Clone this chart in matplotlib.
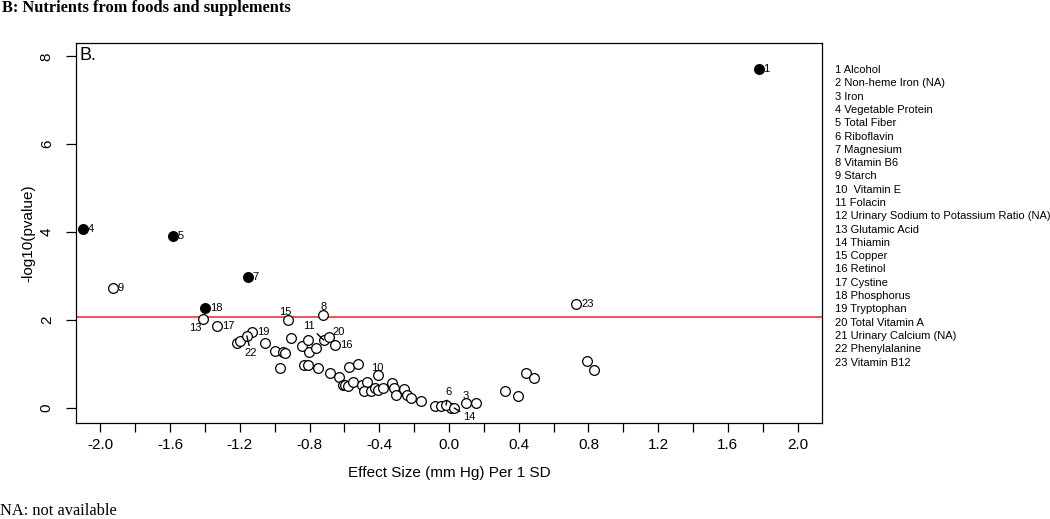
import numpy as np
import matplotlib
matplotlib.use('Agg')
import matplotlib.pyplot as plt

plt.rcParams['font.family'] = ['Liberation Sans', 'DejaVu Sans']

# significant nutrients (filled markers)
sig_id = ['1', '4', '5', '7', '18']
sig_x = [1.776, -2.10, -1.586, -1.155, -1.40]
sig_y = [7.70, 4.07, 3.91, 2.98, 2.27]

# labelled non-significant nutrients (open markers)
lab_id = ['9', '13', '17', '15', '8', '11', '20', '16', '19', '22', '10', '6', '3', '14', '23']
lab_x = [-1.93, -1.41, -1.33, -0.925, -0.724, -0.72, -0.69, -0.655, -1.13, -1.16, -0.41, -0.017, 0.098, 0.03, 0.73]
lab_y = [2.73, 2.02, 1.86, 2.00, 2.11, 1.55, 1.61, 1.43, 1.73, 1.64, 0.75, 0.07, 0.11, 0.00, 2.36]

# other nutrients (open markers, no label)
oth_x = [-1.218, -1.199, -1.054, -0.998, -0.95, -0.94, -0.97, -0.908, -0.845, -0.81,
         -0.806, -0.766, -0.83, -0.81, -0.749, -0.682, -0.63, -0.607, -0.598, -0.58,
         -0.576, -0.553, -0.523, -0.498, -0.47, -0.487, -0.45, -0.425, -0.406, -0.38,
         -0.33, -0.316, -0.305, -0.258, -0.243, -0.218, -0.159, -0.079, -0.046, 0.01,
         0.155, 0.32, 0.395, 0.443, 0.485, 0.793, 0.83]
oth_y = [1.49, 1.53, 1.49, 1.29, 1.27, 1.25, 0.92, 1.59, 1.41, 1.54,
         1.27, 1.37, 0.97, 0.98, 0.92, 0.80, 0.71, 0.52, 0.52, 0.50,
         0.94, 0.60, 1.01, 0.52, 0.60, 0.39, 0.38, 0.45, 0.41, 0.45,
         0.58, 0.45, 0.30, 0.43, 0.30, 0.22, 0.17, 0.05, 0.05, -0.01,
         0.11, 0.39, 0.27, 0.79, 0.69, 1.08, 0.86]

threshold = 2.07

key_names = ['1 Alcohol', '2 Non-heme Iron (NA)', '3 Iron', '4 Vegetable Protein',
             '5 Total Fiber', '6 Riboflavin', '7 Magnesium', '8 Vitamin B6', '9 Starch',
             '10  Vitamin E', '11 Folacin', '12 Urinary Sodium to Potassium Ratio (NA)',
             '13 Glutamic Acid', '14 Thiamin', '15 Copper', '16 Retinol', '17 Cystine',
             '18 Phosphorus', '19 Tryptophan', '20 Total Vitamin A',
             '21 Urinary Calcium (NA)', '22 Phenylalanine', '23 Vitamin B12']

fig = plt.figure(figsize=(10.5, 5.19), dpi=100)
ax = fig.add_axes([0.0724, 0.185, 0.7105, 0.732])

ax.axhline(threshold, color='#e8262a', lw=1.1, zorder=1)

ax.plot(oth_x, oth_y, 'o', ms=7, mfc='white', mec='black', mew=0.9, zorder=3)
ax.plot(lab_x, lab_y, 'o', ms=7, mfc='white', mec='black', mew=0.9, zorder=3)
ax.plot(sig_x, sig_y, 'o', ms=7, mfc='black', mec='black', mew=0.9, zorder=4)

# label placement: (dx, dy) in points, alignment, leader line
right = ((3.5, 0), 'left', False)
place = {
    '1': right, '4': right, '5': right, '7': right, '18': right, '9': right,
    '17': right, '16': right, '19': right, '23': right,
    '20': ((2.5, 3.5), 'left', False),
    '13': ((-5.5, -6), 'center', False),
    '15': ((-2, 6), 'center', False),
    '8': ((0.7, 6), 'center', False),
    '10': ((0, 5), 'center', False),
    '3': ((-0.5, 5), 'center', False),
    '11': ((-10.5, 10), 'center', True),
    '22': ((3, -12.5), 'center', True),
    '6': ((1.5, 9), 'center', True),
    '14': ((10.5, -6.5), 'center', True),
}
for ids, xs, ys in [(sig_id, sig_x, sig_y), (lab_id, lab_x, lab_y)]:
    for t, x, y in zip(ids, xs, ys):
        off, ha, line = place[t]
        kw = {}
        if line:
            kw['arrowprops'] = dict(arrowstyle='-', color='black', lw=1.0,
                                    shrinkA=0, shrinkB=0)
        ax.annotate(t, (x, y), xytext=off, textcoords='offset points',
                    ha=ha, va='center', fontsize=8, zorder=5, **kw)

ax.set_xlim(-2.14, 2.14)
ax.set_ylim(-0.34, 8.3)
xt = np.round(np.arange(-2.0, 2.01, 0.2), 1) + 0.0
ax.set_xticks(xt)
ax.set_xticklabels(['%.1f' % abs(v) if abs(v) < 1e-9 else ('%.1f' % v if i % 2 == 0 else '')
                    for i, v in enumerate(xt)])
ax.set_yticks([0, 2, 4, 6, 8])
ax.set_yticklabels(['0', '2', '4', '6', '8'], rotation=90, va='center')
ax.tick_params(axis='x', length=6.5, width=0.9, pad=4, labelsize=11)
ax.tick_params(axis='y', length=7, width=0.9, pad=9, labelsize=11)
for s in ax.spines.values():
    s.set_linewidth(0.9)

ax.set_xlabel('Effect Size (mm Hg) Per 1 SD', fontsize=11)
ax.xaxis.set_label_coords(0.5, -0.113)
ax.set_ylabel('-log10(pvalue)', fontsize=11)
ax.yaxis.set_label_coords(-0.055, 0.5)

ax.text(0.005, 0.99, 'B.', transform=ax.transAxes, fontsize=13, va='top', ha='left')

# key of nutrient numbers
for i, name in enumerate(key_names):
    fig.text(835 / 1050, 1 - (70 + 13.3 * i) / 519, name, fontsize=8, va='center', ha='left')

fig.text(0.002, 1 - 8 / 519, 'B: Nutrients from foods and supplements',
         family=['Liberation Serif', 'DejaVu Serif'], fontweight='bold', fontsize=11.8, va='center')
fig.text(0.0, 1 - 511 / 519, 'NA: not available',
         family=['Liberation Serif', 'DejaVu Serif'], fontsize=11.8, va='center')

fig.savefig('out.png', dpi=100)
